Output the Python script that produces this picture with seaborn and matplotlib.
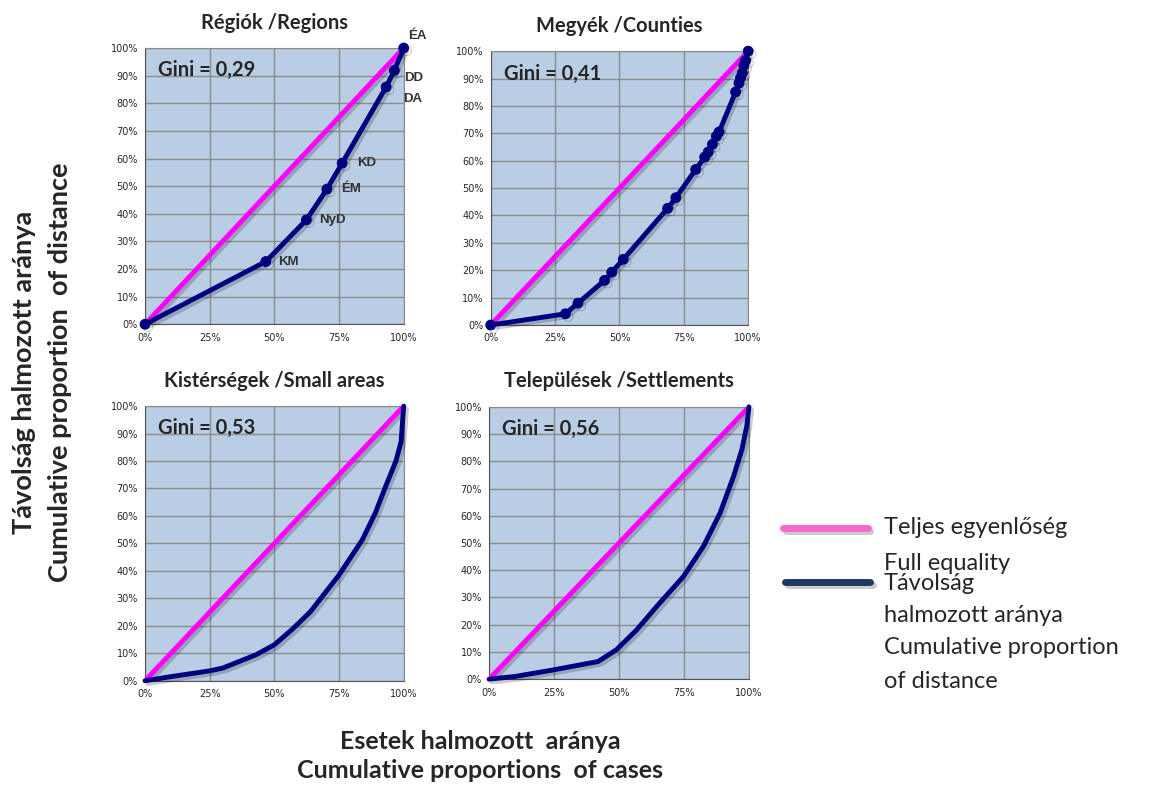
import numpy as np
import pandas as pd
import seaborn as sns
import matplotlib.pyplot as plt
from matplotlib.lines import Line2D
import matplotlib.patheffects as pe

# Régiók / Regions (cumulative share of cases, cumulative share of distance)
reg_x = [0.0, 0.467, 0.624, 0.703, 0.762, 0.932, 0.964, 1.0]
reg_y = [0.0, 0.227, 0.378, 0.489, 0.583, 0.859, 0.919, 1.0]
reg_labels = ["", "KM", "NyD", "ÉM", "KD", "DA", "DD", "ÉA"]

# Megyék / Counties
cty_x = [0.0, 0.290, 0.339, 0.442, 0.470, 0.515, 0.687, 0.719, 0.796, 0.831, 0.845,
         0.861, 0.876, 0.887, 0.951, 0.964, 0.970, 0.977, 0.983, 0.990, 1.0]
cty_y = [0.0, 0.041, 0.080, 0.163, 0.193, 0.240, 0.426, 0.465, 0.568, 0.613, 0.632,
         0.660, 0.689, 0.705, 0.851, 0.883, 0.903, 0.920, 0.948, 0.966, 1.0]

# Kistérségek / Small areas
sa_x = [0.0, 0.10, 0.25, 0.30, 0.43, 0.50, 0.57, 0.64, 0.75, 0.84, 0.89, 0.93, 0.97, 0.99, 1.0]
sa_y = [0.0, 0.015, 0.036, 0.046, 0.095, 0.131, 0.188, 0.252, 0.385, 0.513, 0.61, 0.707, 0.80, 0.87, 1.0]

# Települések / Settlements
st_x = [0.0, 0.10, 0.247, 0.42, 0.49, 0.568, 0.645, 0.748, 0.825, 0.889, 0.941, 0.973, 0.992, 1.0]
st_y = [0.0, 0.010, 0.034, 0.065, 0.108, 0.181, 0.267, 0.377, 0.488, 0.61, 0.745, 0.843, 0.93, 1.0]

titles = ["Régiók /Regions", "Megyék /Counties", "Kistérségek /Small areas", "Települések /Settlements"]
ginis = ["Gini = 0,29", "Gini = 0,41", "Gini = 0,53", "Gini = 0,56"]
x_ticks = [0, 0.25, 0.5, 0.75, 1.0]
x_ticklabels = ["0%", "25%", "50%", "75%", "100%"]
y_ticks = [i / 10 for i in range(11)]
y_ticklabels = [f"{i * 10}%" for i in range(11)]

legend_lines = ["Teljes egyenlőség", "Full equality", "Távolság", "halmozott aránya",
                "Cumulative proportion", "of distance"]

PINK = "#FF00FF"
NAVY = "#000080"
BG = "#B9CDE5"

sns.set_style("white")
plt.rcParams["font.family"] = ["Lato", "DejaVu Sans"]

fig = plt.figure(figsize=(11.6, 7.87), dpi=100)
positions = [
    [0.125, 0.588, 0.223, 0.351],
    [0.423, 0.587, 0.222, 0.348],
    [0.125, 0.135, 0.223, 0.349],
    [0.4216, 0.137, 0.224, 0.346],
]
datasets = [(reg_x, reg_y, True), (cty_x, cty_y, True), (sa_x, sa_y, False), (st_x, st_y, False)]

shadow = [pe.SimpleLineShadow(offset=(2, -2), alpha=0.2), pe.Normal()]

for i, (pos, (xs, ys, markers)) in enumerate(zip(positions, datasets)):
    ax = fig.add_axes(pos)
    ax.set_facecolor(BG)
    df = pd.DataFrame({"x": xs, "y": ys})
    sns.lineplot(x=[0, 1], y=[0, 1], ax=ax, color=PINK, lw=3.5, zorder=3)
    sns.lineplot(data=df, x="x", y="y", ax=ax, sort=False, color=NAVY, lw=3.5,
                 marker="o" if markers else None, markersize=7, markeredgecolor=NAVY,
                 zorder=4, clip_on=False)
    for ln in ax.lines:
        ln.set_path_effects(shadow)
    ax.set_xlim(0, 1)
    ax.set_ylim(0, 1)
    ax.set_xticks(x_ticks)
    ax.set_xticklabels(x_ticklabels, fontsize=7, family="DejaVu Sans")
    ax.set_yticks(y_ticks)
    ax.set_yticklabels(y_ticklabels, fontsize=7, family="DejaVu Sans")
    ax.tick_params(axis="y", length=3, color="#555555", pad=2)
    ax.tick_params(axis="x", length=0, pad=6)
    ax.grid(True, color="#8C8C8C", lw=1)
    ax.set_axisbelow(True)
    for s in ["top", "right"]:
        ax.spines[s].set_color("#8C8C8C")
    for s in ["left", "bottom"]:
        ax.spines[s].set_color("#555555")
    ax.set_xlabel("")
    ax.set_ylabel("")
    ax.set_title(titles[i], fontsize=14.5, fontweight="bold", pad=14)
    ax.text(0.05, 0.955, ginis[i], transform=ax.transAxes, fontsize=14.5,
            fontweight="bold", va="top", ha="left")
    if i == 0:
        offsets = {"KM": (12, 0), "NyD": (13, 0), "ÉM": (14, 0), "KD": (15, 0),
                   "DA": (17, -12), "DD": (10, -8), "ÉA": (4, 12)}
        for lx, ly, lab in zip(xs, ys, reg_labels):
            if lab:
                ax.annotate(lab, (lx, ly), xytext=offsets[lab], textcoords="offset pixels",
                            fontsize=9.5, fontweight="bold", color="#333333",
                            ha="left", va="center", family="Liberation Sans",
                            annotation_clip=False)

fig.text(0.036, 0.527, "Távolság halmozott aránya\nCumulative proportion  of distance",
         rotation=90, ha="center", va="center", fontsize=19.5, fontweight="bold",
         linespacing=1.6)
fig.text(0.414, 0.039, "Esetek halmozott  aránya\nCumulative proportions  of cases",
         ha="center", va="center", fontsize=18, fontweight="bold", linespacing=1.3)

# legend
fig.add_artist(Line2D([0.675, 0.748], [1 - 528 / 787] * 2, color="#FF66CC", lw=5,
                      path_effects=shadow))
fig.add_artist(Line2D([0.677, 0.750], [1 - 582 / 787] * 2, color="#1F3864", lw=5,
                      path_effects=shadow))
for txt, ypx in zip(legend_lines, [528, 563, 583, 615, 648, 682]):
    fig.text(0.762, 1 - ypx / 787, txt, fontsize=17, va="center", ha="left")

fig.savefig("out.png", dpi=100)
